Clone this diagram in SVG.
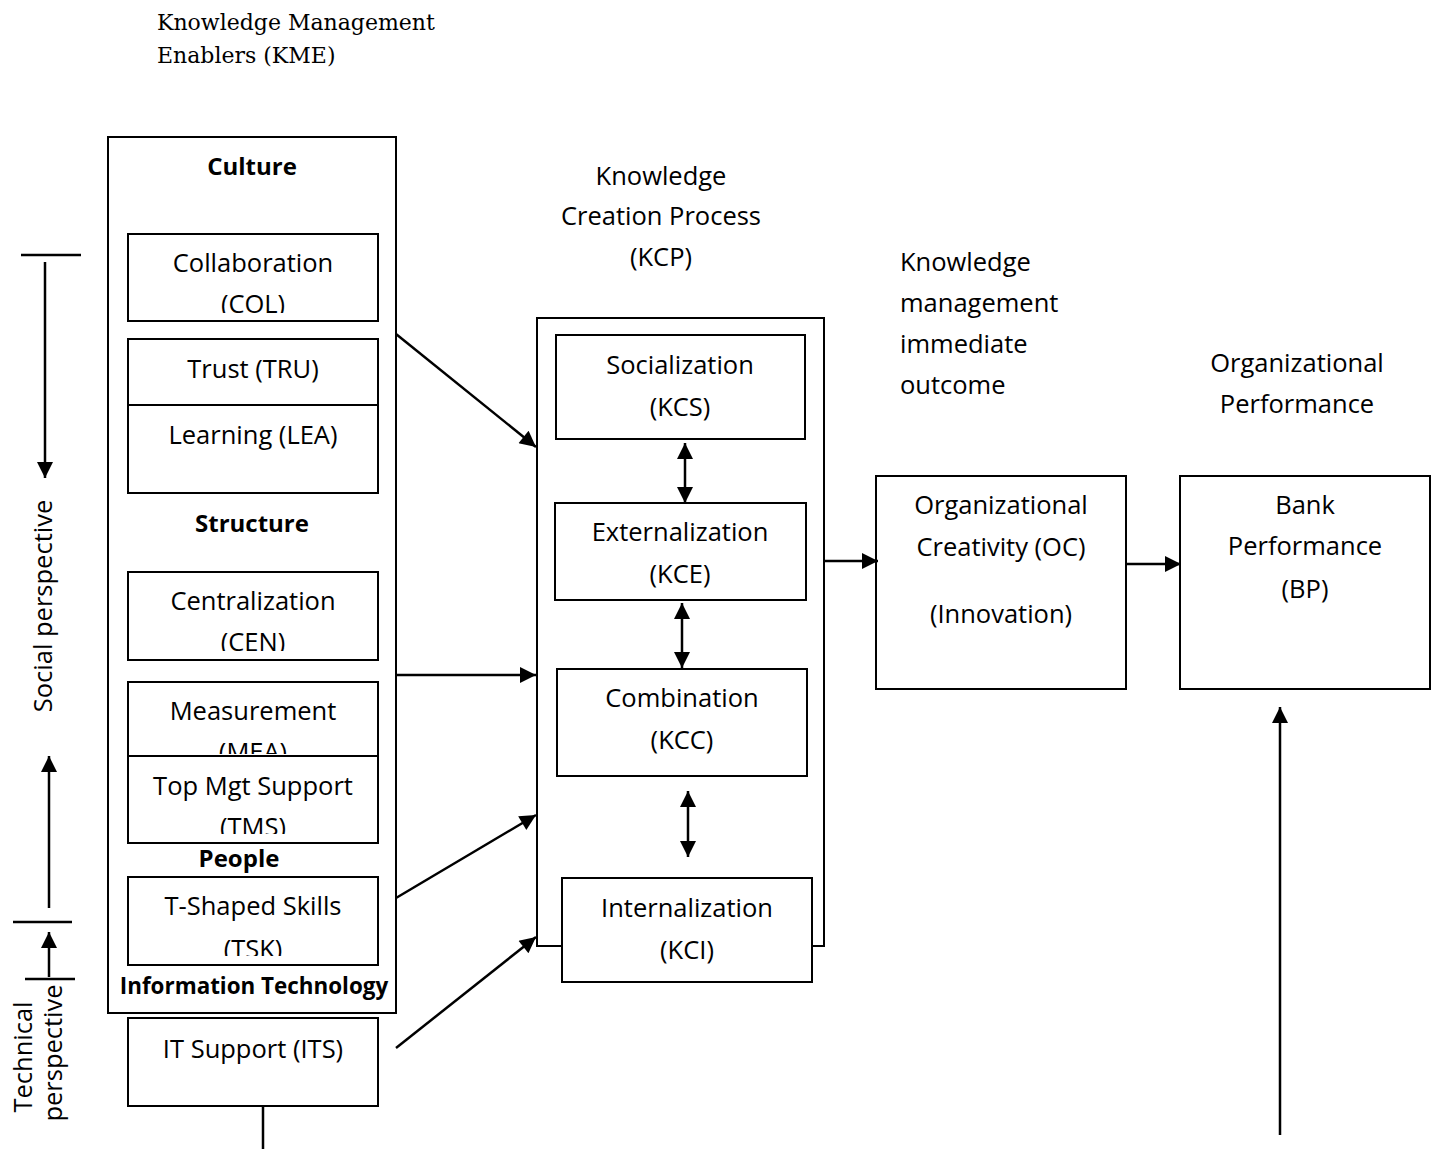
<svg xmlns="http://www.w3.org/2000/svg" width="1439" height="1149" viewBox="0 0 1439 1149">
<style>
.box{fill:#fff;stroke:#000;stroke-width:2}
.t{font-family:"Open Sans","Noto Sans",sans-serif;font-size:25.5px;fill:#000}
.c{text-anchor:middle}
.b{font-weight:bold;font-size:24px}
.s{font-family:"DejaVu Serif","Liberation Serif",serif;font-size:22px;fill:#000}
.ln{stroke:#000;stroke-width:2.5;fill:none}
</style>
<defs>
<marker id="ah" viewBox="0 0 10 10" refX="10" refY="5" markerUnits="userSpaceOnUse" markerWidth="18" markerHeight="16" orient="auto-start-reverse">
<path d="M0,0 L10,5 L0,10 z" fill="#000"/>
</marker>
<clipPath id="cCOL"><rect x="128" y="234" width="250" height="79"/></clipPath>
<clipPath id="cCEN"><rect x="128" y="572" width="250" height="79"/></clipPath>
<clipPath id="cMEA"><rect x="128" y="682" width="250" height="72"/></clipPath>
<clipPath id="cTMS"><rect x="128" y="756" width="250" height="78"/></clipPath>
<clipPath id="cTSK"><rect x="128" y="877" width="250" height="79"/></clipPath>
</defs>

<g id="title-kme">
<text class="s" x="157" y="30">Knowledge Management</text>
<text class="s" x="157" y="63">Enablers (KME)</text>
</g>

<g id="kme">
<rect class="box" x="108" y="137" width="288" height="876"/>
<text class="t c b" x="252" y="175">Culture</text>
<text class="t c b" x="252" y="532">Structure</text>
<text class="t c b" x="239" y="867">People</text>
<text class="t c b" x="254" y="994" style="font-size:22.4px">Information Technology</text>
</g>

<g id="col">
<rect class="box" x="128" y="234" width="250" height="87"/>
<g clip-path="url(#cCOL)">
<text class="t c" x="253" y="272">Collaboration</text>
<text class="t c" x="253" y="313">(COL)</text>
</g>
</g>

<g id="tru">
<rect class="box" x="128" y="339" width="250" height="66"/>
<text class="t c" x="253" y="378">Trust (TRU)</text>
</g>

<g id="lea">
<rect class="box" x="128" y="405" width="250" height="88"/>
<text class="t c" x="253" y="444">Learning (LEA)</text>
</g>

<g id="cen">
<rect class="box" x="128" y="572" width="250" height="88"/>
<g clip-path="url(#cCEN)">
<text class="t c" x="253" y="610">Centralization</text>
<text class="t c" x="253" y="651">(CEN)</text>
</g>
</g>

<g id="mea">
<rect class="box" x="128" y="682" width="250" height="74"/>
<g clip-path="url(#cMEA)">
<text class="t c" x="253" y="720">Measurement</text>
<text class="t c" x="253" y="761">(MEA)</text>
</g>
</g>

<g id="tms">
<rect class="box" x="128" y="756" width="250" height="87"/>
<g clip-path="url(#cTMS)">
<text class="t c" x="253" y="795">Top Mgt Support</text>
<text class="t c" x="253" y="836">(TMS)</text>
</g>
</g>

<g id="tsk">
<rect class="box" x="128" y="877" width="250" height="88"/>
<g clip-path="url(#cTSK)">
<text class="t c" x="253" y="915">T-Shaped Skills</text>
<text class="t c" x="253" y="958">(TSK)</text>
</g>
</g>

<g id="its">
<rect class="box" x="128" y="1018" width="250" height="88"/>
<text class="t c" x="253" y="1058">IT Support (ITS)</text>
</g>

<g id="kcp-label">
<text class="t c" x="661" y="185">Knowledge</text>
<text class="t c" x="661" y="225">Creation Process</text>
<text class="t c" x="661" y="266">(KCP)</text>
</g>

<g id="kmio-label">
<text class="t" x="900" y="271">Knowledge</text>
<text class="t" x="900" y="312">management</text>
<text class="t" x="900" y="353">immediate</text>
<text class="t" x="900" y="394">outcome</text>
</g>

<g id="op-label">
<text class="t c" x="1297" y="372">Organizational</text>
<text class="t c" x="1297" y="413">Performance</text>
</g>

<g id="kcp">
<rect class="box" x="537" y="318" width="287" height="628"/>
</g>

<g id="kcs">
<rect class="box" x="556" y="335" width="249" height="104"/>
<text class="t c" x="680" y="374">Socialization</text>
<text class="t c" x="680" y="416">(KCS)</text>
</g>

<g id="kce">
<rect class="box" x="555" y="503" width="251" height="97"/>
<text class="t c" x="680" y="541">Externalization</text>
<text class="t c" x="680" y="583">(KCE)</text>
</g>

<g id="kcc">
<rect class="box" x="557" y="669" width="250" height="107"/>
<text class="t c" x="682" y="707">Combination</text>
<text class="t c" x="682" y="749">(KCC)</text>
</g>

<g id="kci">
<rect class="box" x="562" y="878" width="250" height="104"/>
<text class="t c" x="687" y="917">Internalization</text>
<text class="t c" x="687" y="959">(KCI)</text>
</g>

<g id="oc">
<rect class="box" x="876" y="476" width="250" height="213"/>
<text class="t c" x="1001" y="514">Organizational</text>
<text class="t c" x="1001" y="556">Creativity (OC)</text>
<text class="t c" x="1001" y="623">(Innovation)</text>
</g>

<g id="bp">
<rect class="box" x="1180" y="476" width="250" height="213"/>
<text class="t c" x="1305" y="514">Bank</text>
<text class="t c" x="1305" y="555">Performance</text>
<text class="t c" x="1305" y="598">(BP)</text>
</g>

<g id="perspectives">
<line class="ln" x1="21" y1="255" x2="81" y2="255"/>
<line class="ln" x1="45" y1="262" x2="45" y2="478" marker-end="url(#ah)"/>
<text class="t c" transform="translate(52,606) rotate(-90)">Social perspective</text>
<line class="ln" x1="49" y1="908" x2="49" y2="756" marker-end="url(#ah)"/>
<line class="ln" x1="13" y1="922" x2="72" y2="922"/>
<line class="ln" x1="49" y1="977" x2="49" y2="932" marker-end="url(#ah)"/>
<line class="ln" x1="25" y1="979" x2="75" y2="979"/>
<text class="t c" transform="translate(32,1057) rotate(-90)">Technical</text>
<text class="t c" transform="translate(62,1053) rotate(-90)">perspective</text>
</g>

<g id="connectors">
<line class="ln" x1="396" y1="334" x2="536" y2="447" marker-end="url(#ah)"/>
<line class="ln" x1="396" y1="675" x2="536" y2="675" marker-end="url(#ah)"/>
<line class="ln" x1="396" y1="898" x2="536" y2="815" marker-end="url(#ah)"/>
<line class="ln" x1="396" y1="1048" x2="536" y2="937" marker-end="url(#ah)"/>
<line class="ln" x1="685" y1="443" x2="685" y2="503" marker-start="url(#ah)" marker-end="url(#ah)"/>
<line class="ln" x1="682" y1="603" x2="682" y2="668" marker-start="url(#ah)" marker-end="url(#ah)"/>
<line class="ln" x1="688" y1="791" x2="688" y2="857" marker-start="url(#ah)" marker-end="url(#ah)"/>
<line class="ln" x1="824" y1="561" x2="878" y2="561" marker-end="url(#ah)"/>
<line class="ln" x1="1126" y1="564" x2="1181" y2="564" marker-end="url(#ah)"/>
<line class="ln" x1="1280" y1="1135" x2="1280" y2="707" marker-end="url(#ah)"/>
<line class="ln" x1="263" y1="1106" x2="263" y2="1149"/>
</g>
</svg>
